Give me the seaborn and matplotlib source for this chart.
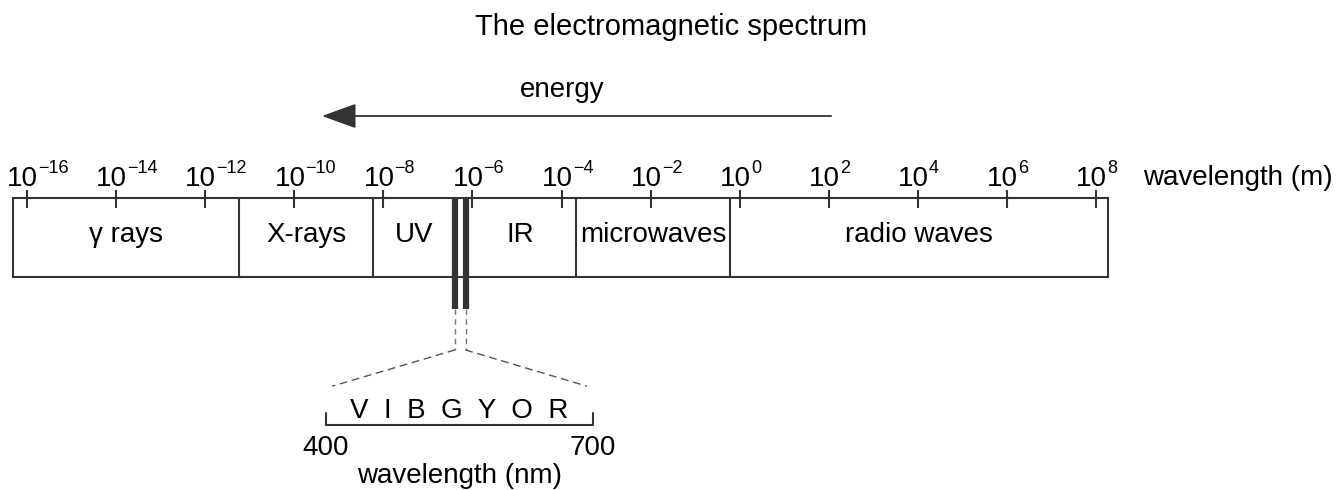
import numpy as np
import matplotlib.pyplot as plt
from matplotlib.patches import Rectangle, ConnectionPatch
import seaborn as sns

# --- data (wavelength axis is log10 of metres) ---
tick_exps = [-16, -14, -12, -10, -8, -6, -4, -2, 0, 2, 4, 6, 8]
band_names = ["γ rays", "X-rays", "UV", "IR", "microwaves", "radio waves"]
band_lo = [-16.31, -11.23, -8.24, -6.155, -3.68, -0.21]
band_hi = [-11.23, -8.24, -6.398, -3.68, -0.21, 8.26]
visible_nm = [400, 700]
vibgyor = ["V", "I", "B", "G", "Y", "O", "R"]
energy_arrow = [2.05, -9.38]   # tail, head (log10 m)

sns.set_theme(style="white")
plt.rcParams["font.family"] = ["Liberation Sans", "DejaVu Sans"]
plt.rcParams["text.color"] = "black"
ink = "#333333"
fs = 20

fig = plt.figure(figsize=(13.36, 4.9), dpi=100)
ax = fig.add_axes([0, 0, 1, 1])
ax.set_xlim(-16.606, 13.383)
ax.set_ylim(490, 0)
ax.axis("off")

# linear nm axis for the visible-light inset
ax2 = fig.add_axes([0, 0, 1, 1])
ax2.patch.set_alpha(0)
ax2.set_xlim(33.7, 1534.8)
ax2.set_ylim(490, 0)
ax2.axis("off")

fig.text(0.502, 1 - 35 / 490, "The electromagnetic spectrum", ha="center",
         va="baseline", fontsize=21)

# energy arrow
ax.annotate("", xy=(energy_arrow[1], 116), xytext=(energy_arrow[0], 116),
            arrowprops=dict(arrowstyle="-|>,head_length=1.8,head_width=0.65",
                            color=ink, lw=1.3, shrinkA=0, shrinkB=0))
ax.text(np.mean(energy_arrow) - 0.33, 97, "energy", ha="center", va="baseline",
        fontsize=fs)

# spectrum box
top, bot = 198, 277
ax.add_patch(Rectangle((band_lo[0], top), band_hi[-1] - band_lo[0], bot - top,
                       fill=False, ec=ink, lw=1.5, zorder=2))
dividers = [band_hi[0], band_hi[1], band_hi[3], band_hi[4]]
ax.vlines(dividers, top, bot, color=ink, lw=1.5)
for name, lo, hi in zip(band_names, band_lo, band_hi):
    ax.text((lo + hi) / 2, 242, name, ha="center", va="baseline", fontsize=fs)

# tick marks
sns.scatterplot(x=tick_exps, y=[198.5] * len(tick_exps), marker="|", s=150,
                linewidth=1.5, color=ink, ax=ax, zorder=3)
for e in tick_exps:
    ax.annotate("10", (e, 186), xytext=(8, 0), textcoords="offset points",
                ha="right", va="baseline", fontsize=fs)
    ax.annotate(str(e).replace("-", "\u2212"), (e, 186), xytext=(8, 9.1),
                textcoords="offset points", ha="left", va="baseline", fontsize=13)
ax.text(9.05, 185, "wavelength (m)", ha="left", va="baseline", fontsize=fs)

# visible band bars
vis_log = np.log10(np.array(visible_nm) * 1e-9)
ax.vlines(vis_log, top, 309, color=ink, lw=4.5, zorder=3)
ax.vlines(vis_log, 309, 350, color="#777777", lw=1, linestyles=(0, (4, 3)))
for xl, xn in zip(vis_log, visible_nm):
    con = ConnectionPatch(xyA=(xl, 350), coordsA=ax.transData,
                          xyB=(xn, 388), coordsB=ax2.transData,
                          arrowstyle="-", shrinkA=0, shrinkB=5,
                          color="#555555", lw=1, linestyle=(0, (5, 4)))
    fig.add_artist(con)

# inset bracket
ax2.plot([visible_nm[0], visible_nm[0], visible_nm[1], visible_nm[1]],
         [413, 425, 425, 413], color=ink, lw=1.5)
ax2.text(np.mean(visible_nm), 418, "  ".join(vibgyor), ha="center",
         va="baseline", fontsize=fs)
for v in visible_nm:
    ax2.text(v, 455, str(v), ha="center", va="baseline", fontsize=fs)
ax2.text(np.mean(visible_nm), 483, "wavelength (nm)", ha="center",
         va="baseline", fontsize=fs)

fig.savefig("out.png", dpi=100)
